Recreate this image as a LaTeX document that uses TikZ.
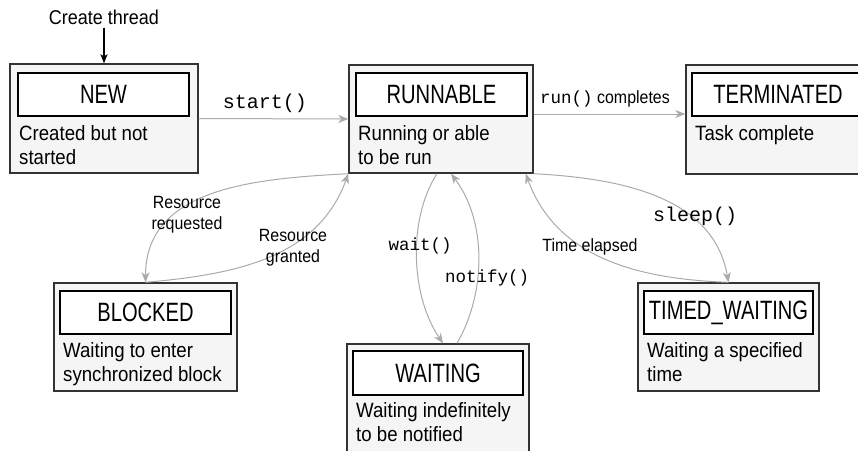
\documentclass[tikz,border=0pt]{standalone}
\usepackage{fontspec}
\setmainfont[FakeStretch=0.9]{Liberation Sans}
\newfontfamily\titlefam[FakeStretch=0.76]{Liberation Sans}
\setmonofont{Liberation Mono}
\usetikzlibrary{arrows.meta}
\definecolor{boxfill}{HTML}{F5F5F5}
\definecolor{boxline}{HTML}{333333}
\definecolor{arrowgray}{HTML}{AAAAAA}
\newcommand\titlefont{\titlefam\fontsize{26.5}{30}\selectfont}
\newcommand\descfont{\fontsize{20.7}{24.5}\selectfont}
\newcommand\labfont{\fontsize{17.7}{21}\selectfont}
\newcommand\bigcodefont{\ttfamily\fontsize{20}{24}\selectfont}
\newcommand\codefont{\ttfamily\fontsize{17.5}{21}\selectfont}
\begin{document}
\begin{tikzpicture}[x=1pt,y=-1pt,
  outerbox/.style={draw=boxline, line width=1.4pt, fill=boxfill, minimum width=184pt, minimum height=108pt, inner sep=0pt},
  titlebox/.style={draw=black, line width=1.2pt, fill=white, minimum width=171pt, minimum height=43pt, inner sep=0pt, font=\titlefont},
  desc/.style={anchor=north west, inner sep=0pt, align=left, font=\descfont},
  trans/.style={draw=arrowgray, line width=1pt, -{Stealth[length=10pt,width=8pt,inset=3pt]}},
  lab/.style={font=\labfont, align=center, inner sep=0pt},
  codelab/.style={font=\codefont, inner sep=0pt},
  bigcodelab/.style={font=\bigcodefont, inner sep=0pt}]
\useasboundingbox (0,0) rectangle (858,450);
\clip (0,0) rectangle (858,450);

% NEW
\node[outerbox, minimum width=188pt, minimum height=109pt] (newo) at (104,118.5) {};
\node[titlebox] (newt) at (103.5,94.5) {NEW};
\node[desc] (newd) at (19,125) {Created but not\\started};

% RUNNABLE
\node[outerbox] (runo) at (441,119) {};
\node[titlebox] (runt) at (441.5,94.5) {RUNNABLE};
\node[desc] (rund) at (358,125) {Running or able\\to be run};

% TERMINATED
\node[outerbox, minimum height=109pt] (termo) at (778,119.5) {};
\node[titlebox, minimum width=172pt] (termt) at (778,94.5) {TERMINATED};
\node[desc] (termd) at (695,125) {Task complete};

% BLOCKED
\node[outerbox, minimum width=183pt] (blko) at (145.5,337) {};
\node[titlebox] (blkt) at (145.5,312.5) {BLOCKED};
\node[desc] (blkd) at (63,342) {Waiting to enter\\synchronized block};

% WAITING
\node[outerbox, minimum width=182pt] (wto) at (438,398) {};
\node[titlebox, minimum width=170pt, minimum height=44pt] (wtt) at (438,373) {WAITING};
\node[desc] (wtd) at (356,402) {Waiting indefinitely\\to be notified};

% TIMED_WAITING
\node[outerbox, minimum width=181pt] (tmo) at (728.5,337) {};
\node[titlebox, minimum width=169pt] (tmt) at (728.5,312.5) {TIMED\_WAITING};
\node[desc] (tmd) at (647,342) {Waiting a specified\\time};

% Create thread
\node[lab, font=\fontsize{20}{24}\selectfont] (ct) at (104,17) {Create thread};
\draw[black, line width=1.2pt, -{Stealth[length=9pt,width=7pt,inset=2pt]}] ([yshift=-3pt]ct.south) -- (ct.south |- newo.north);

% start()
\draw[trans] (newo.east) -- (runo.west);
\node[bigcodelab] (lstart) at (265,103) {start()};

% run() completes
\draw[trans] (runo.east |- 0,114) -- (termo.west |- 0,114);
\node[lab] (lrun) at (605,99) {{\codefont run()} completes};

% Resource requested / granted
\draw[trans] (runo.south west) to[out=183,in=90,looseness=1.05] (blko.north);
\draw[trans] (blko.north) to[out=5,in=250,looseness=1] (runo.south west);
\node[lab] (lreq) at (187,215) {Resource\\requested};
\node[lab] (lgr) at (293,248) {Resource\\granted};

% wait / notify
\draw[trans] ([xshift=-4pt]runo.south) to[out=237,in=124,out distance=52pt,in distance=60pt] ([xshift=5pt]wto.north);
\draw[trans] ([xshift=19pt]wto.north) to[out=60,in=307,out distance=58pt,in distance=60pt] ([xshift=10pt]runo.south);
\node[codelab] (lwait) at (420,246) {wait()};
\node[codelab] (lnot) at (487,278) {notify()};

% Time elapsed / sleep
\draw[trans] (tmo.north) to[out=178,in=290] ([xshift=-8pt]runo.south east);
\draw[trans] (runo.south east) to[out=357,in=100] (tmo.north);
\node[lab] (ltime) at (590,247) {Time elapsed};
\node[bigcodelab] (lsleep) at (695,216) {sleep()};
\end{tikzpicture}
\end{document}
